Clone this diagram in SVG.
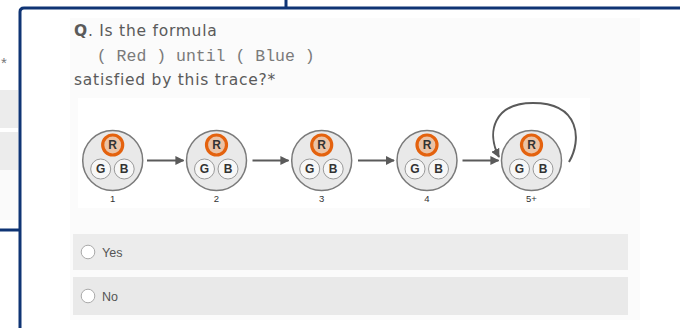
<svg xmlns="http://www.w3.org/2000/svg" width="680" height="328" viewBox="0 0 680 328">
<defs>
<style>
.frame{stroke:#0f3474;stroke-width:3;fill:none}
.outer{fill:#e9e9e9;stroke:#7a7a7a;stroke-width:1.5}
.r{fill:#ebc3a6;stroke:#e4620e;stroke-width:3.2}
.gb{fill:#f7f7f7;stroke:#9a9a9a;stroke-width:1}
.lt{font-family:"Liberation Sans",Arial,sans-serif;font-size:12px;font-weight:bold;fill:#333;text-anchor:middle}
.num{font-family:"Liberation Sans",Arial,sans-serif;font-size:9.5px;fill:#333;text-anchor:middle}
.conn{stroke:#5a5a5a;stroke-width:2;fill:none;marker-end:url(#ah)}
.q{font-family:"DejaVu Sans","Open Sans",sans-serif;font-size:15.5px;letter-spacing:0.75px;fill:#5a5a5a}
.mono{font-family:"Liberation Mono","Courier New",monospace;font-size:16.5px;fill:#7a7a7a}
.opt{font-family:"Liberation Sans",Arial,sans-serif;font-size:12.5px;fill:#555}
.radio{fill:#fff;stroke:#aaa;stroke-width:1}
</style>
<marker id="ah" viewBox="0 0 10 10" refX="9" refY="5" markerWidth="4.5" markerHeight="4.5" orient="auto" markerUnits="strokeWidth">
<path d="M0,0 L10,5 L0,10 z" fill="#5a5a5a"/>
</marker>
</defs>
<rect width="680" height="328" fill="#ffffff"/>
<g id="leftpanel">
<text x="1" y="68" font-family="Liberation Sans,Arial,sans-serif" font-size="15" fill="#777">*</text>
<rect x="0" y="90" width="18" height="38" fill="#ececec"/>
<rect x="0" y="132" width="18" height="38" fill="#ececec"/>
<rect x="0" y="170" width="18" height="50" fill="#fafafa"/>
<line x1="0" y1="230" x2="19" y2="230" class="frame" stroke-width="2.5"/>
</g>
<g id="frame">
<path d="M20,328 V12 Q20,8 24,8 H680" class="frame"/>
<line x1="286" y1="0" x2="286" y2="8" class="frame"/>
</g>
<rect x="70" y="18" width="570" height="302" fill="#fbfbfb"/>
<rect x="78" y="98" width="512" height="110" fill="#ffffff"/>
<g id="question">
<text x="74" y="36" class="q"><tspan font-weight="bold">Q</tspan>. Is the formula</text>
<text x="77" y="61" class="mono" xml:space="preserve">  ( Red ) until ( Blue )</text>
<text x="74" y="85" class="q">satisfied by this trace?*</text>
</g>
<g id="connectors">
<line x1="147" y1="160.5" x2="183.5" y2="160.5" class="conn"/>
<line x1="252.5" y1="160.5" x2="288.5" y2="160.5" class="conn"/>
<line x1="358" y1="160.5" x2="394" y2="160.5" class="conn"/>
<line x1="462.5" y1="160.5" x2="498.5" y2="160.5" class="conn"/>
<path d="M569,162 C582,140 580,103 533,103 C494,103 486,132 499,157" class="conn"/>
</g>
<g id="s1" transform="translate(112.7,160.5)">
<circle r="30" class="outer"/>
<circle cx="0" cy="-15.5" r="10" class="r"/>
<text x="0" y="-11.2" class="lt">R</text>
<circle cx="-12" cy="8.5" r="10" class="gb"/>
<text x="-12" y="12.8" class="lt">G</text>
<circle cx="11.5" cy="8.5" r="10" class="gb"/>
<text x="11.5" y="12.8" class="lt">B</text>
<text x="0" y="41.5" class="num">1</text>
</g>
<g id="s2" transform="translate(216.5,160.5)">
<circle r="30" class="outer"/>
<circle cx="0" cy="-15.5" r="10" class="r"/>
<text x="0" y="-11.2" class="lt">R</text>
<circle cx="-12" cy="8.5" r="10" class="gb"/>
<text x="-12" y="12.8" class="lt">G</text>
<circle cx="11.5" cy="8.5" r="10" class="gb"/>
<text x="11.5" y="12.8" class="lt">B</text>
<text x="0" y="41.5" class="num">2</text>
</g>
<g id="s3" transform="translate(321.7,160.5)">
<circle r="30" class="outer"/>
<circle cx="0" cy="-15.5" r="10" class="r"/>
<text x="0" y="-11.2" class="lt">R</text>
<circle cx="-12" cy="8.5" r="10" class="gb"/>
<text x="-12" y="12.8" class="lt">G</text>
<circle cx="11.5" cy="8.5" r="10" class="gb"/>
<text x="11.5" y="12.8" class="lt">B</text>
<text x="0" y="41.5" class="num">3</text>
</g>
<g id="s4" transform="translate(427,160.5)">
<circle r="30" class="outer"/>
<circle cx="0" cy="-15.5" r="10" class="r"/>
<text x="0" y="-11.2" class="lt">R</text>
<circle cx="-12" cy="8.5" r="10" class="gb"/>
<text x="-12" y="12.8" class="lt">G</text>
<circle cx="11.5" cy="8.5" r="10" class="gb"/>
<text x="11.5" y="12.8" class="lt">B</text>
<text x="0" y="41.5" class="num">4</text>
</g>
<g id="s5" transform="translate(531.5,160.5)">
<circle r="30" class="outer"/>
<circle cx="0" cy="-15.5" r="10" class="r"/>
<text x="0" y="-11.2" class="lt">R</text>
<circle cx="-12" cy="8.5" r="10" class="gb"/>
<text x="-12" y="12.8" class="lt">G</text>
<circle cx="11.5" cy="8.5" r="10" class="gb"/>
<text x="11.5" y="12.8" class="lt">B</text>
<text x="0" y="41.5" class="num">5+</text>
</g>
<g id="opt-yes">
<rect x="73" y="234" width="555" height="36" fill="#ececec"/>
<circle cx="88" cy="252" r="6.8" class="radio"/>
<text x="102" y="256.5" class="opt">Yes</text>
</g>
<g id="opt-no">
<rect x="73" y="277" width="555" height="38" fill="#e9e9e9"/>
<circle cx="88" cy="296" r="6.8" class="radio"/>
<text x="102" y="300.5" class="opt">No</text>
</g>
</svg>
